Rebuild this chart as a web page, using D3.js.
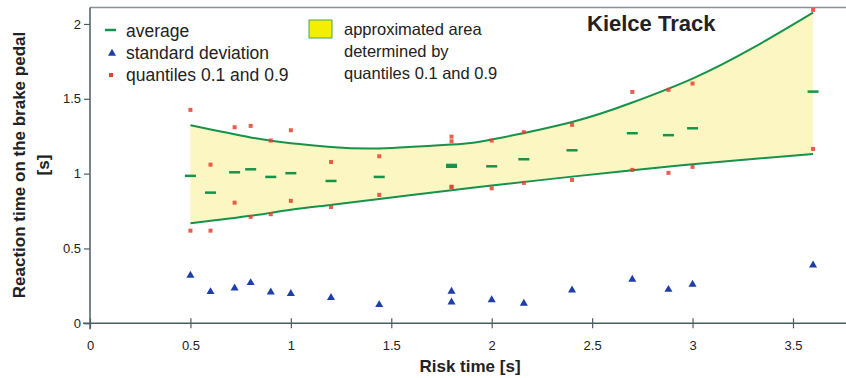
<!DOCTYPE html>
<html>
<head>
<meta charset="utf-8">
<title>Kielce Track</title>
<script src="https://cdn.jsdelivr.net/npm/d3@7/dist/d3.min.js"></script>
<style>
    body { margin: 0; background: #fff; }
    svg text { font-family: "Liberation Sans", Arial, sans-serif; fill: #222; }
</style>
</head>
<body>
<svg id="diagram" width="846" height="378"></svg>
<script>
// risk time of each measurement (two runs at 1.8 s)
var riskTime = [0.5, 0.6, 0.72, 0.8, 0.9, 1.0, 1.2, 1.44, 1.8, 1.8, 2.0, 2.16, 2.4, 2.7, 2.88, 3.0, 3.6];
var average = [0.985, 0.873, 1.009, 1.029, 0.978, 1.003, 0.951, 0.978, 1.058, 1.046, 1.049, 1.096, 1.156, 1.27, 1.257, 1.303, 1.548];
var stdDev = [0.325, 0.216, 0.24, 0.276, 0.214, 0.203, 0.176, 0.129, 0.218, 0.147, 0.162, 0.138, 0.227, 0.298, 0.231, 0.265, 0.394];
var q10 = [0.619, 0.619, 0.806, 0.711, 0.729, 0.818, 0.777, 0.858, 0.913, 0.91, 0.902, 0.938, 0.958, 1.025, 1.005, 1.045, 1.165];
var q90 = [1.426, 1.06, 1.31, 1.319, 1.221, 1.29, 1.078, 1.116, 1.247, 1.216, 1.221, 1.277, 1.326, 1.546, 1.56, 1.602, 2.094];

// approximated area
var bandX = [0.5, 0.8, 1.0, 1.2, 1.44, 1.8, 2.0, 2.4, 2.7, 3.0, 3.3, 3.6];
var bandUpper = [1.323, 1.242, 1.203, 1.178, 1.168, 1.194, 1.228, 1.345, 1.475, 1.635, 1.84, 2.076];
var bandLower = [0.668, 0.718, 0.759, 0.791, 0.831, 0.889, 0.92, 0.98, 1.022, 1.063, 1.098, 1.132];

var xTicks = [0, 0.5, 1, 1.5, 2, 2.5, 3, 3.5];
var yTicks = [0, 0.5, 1, 1.5, 2];

var green = "#17924a";
var red = "#e5412f";
var blue = "#1d3fa6";
var axisColor = "#4c5c63";

var svg = d3.select("#diagram");

var xScale = d3.scaleLinear().domain([0, 3.764]).range([90, 846]);
var yScale = d3.scaleLinear().domain([0, 2.11]).range([323.3, 7.5]);

var points = riskTime.map(function (t, i) {
    return {x: t, avg: average[i], sd: stdDev[i], lo: q10[i], hi: q90[i]};
});
var band = bandX.map(function (t, i) {
    return {x: t, lo: bandLower[i], hi: bandUpper[i]};
});

// frame top line
svg.append("line")
    .attr("x1", xScale(0)).attr("x2", 846)
    .attr("y1", yScale(2.11)).attr("y2", yScale(2.11))
    .attr("stroke", "#8a9093").attr("stroke-width", 1.5);

// approximated area
var area = d3.area()
    .x(function (d) { return xScale(d.x); })
    .y0(function (d) { return yScale(d.lo); })
    .y1(function (d) { return yScale(d.hi); })
    .curve(d3.curveNatural);

svg.append("path")
    .datum(band)
    .attr("d", area)
    .attr("fill", "#fbf6c2");

var upperLine = d3.line()
    .x(function (d) { return xScale(d.x); })
    .y(function (d) { return yScale(d.hi); })
    .curve(d3.curveNatural);
var lowerLine = d3.line()
    .x(function (d) { return xScale(d.x); })
    .y(function (d) { return yScale(d.lo); })
    .curve(d3.curveNatural);

svg.append("path").datum(band).attr("d", upperLine)
    .attr("fill", "none").attr("stroke", green).attr("stroke-width", 2);
svg.append("path").datum(band).attr("d", lowerLine)
    .attr("fill", "none").attr("stroke", green).attr("stroke-width", 2);

// axes
var yAxis = svg.append("g")
    .attr("transform", "translate(" + xScale(0) + ",0)")
    .call(d3.axisLeft(yScale).tickValues(yTicks).tickSize(6).tickPadding(3)
        .tickFormat(function (d) { return String(d); }));
yAxis.select(".domain").remove();
yAxis.append("line")
    .attr("y1", yScale(2.11)).attr("y2", yScale(0) + 6)
    .attr("stroke", axisColor).attr("stroke-width", 1.5);

var xAxis = svg.append("g")
    .attr("transform", "translate(0," + yScale(0) + ")")
    .call(d3.axisBottom(xScale).tickValues(xTicks).tickSize(5).tickPadding(12)
        .tickFormat(function (d) { return String(d); }));
xAxis.select(".domain").remove();
xAxis.append("line")
    .attr("x1", xScale(0) - 7).attr("x2", 846)
    .attr("stroke", axisColor).attr("stroke-width", 1.5);
xAxis.selectAll(".tick line").attr("y1", -5);

svg.selectAll(".tick line").attr("stroke", axisColor).attr("stroke-width", 1.2);
svg.selectAll(".tick text").style("font-size", "13px").attr("fill", "#333");

// quantile markers
var markSize = 4;
svg.append("g").selectAll("rect.q")
    .data(points.flatMap(function (d) { return [{x: d.x, y: d.lo}, {x: d.x, y: d.hi}]; }))
    .enter().append("rect")
    .attr("class", "q")
    .attr("x", function (d) { return xScale(d.x) - markSize / 2; })
    .attr("y", function (d) { return yScale(d.y) - markSize / 2; })
    .attr("width", markSize).attr("height", markSize)
    .attr("fill", red).attr("opacity", 0.85);

// average dashes
svg.append("g").selectAll("line.avg")
    .data(points)
    .enter().append("line")
    .attr("class", "avg")
    .attr("x1", function (d) { return xScale(d.x) - 5.5; })
    .attr("x2", function (d) { return xScale(d.x) + 5.5; })
    .attr("y1", function (d) { return yScale(d.avg); })
    .attr("y2", function (d) { return yScale(d.avg); })
    .attr("stroke", green).attr("stroke-width", 2.5);

// standard deviation triangles
var tri = d3.symbol().type(d3.symbolTriangle).size(28);
svg.append("g").selectAll("path.sd")
    .data(points)
    .enter().append("path")
    .attr("class", "sd")
    .attr("d", tri)
    .attr("transform", function (d) {
        return "translate(" + xScale(d.x) + "," + (yScale(d.sd) + 0.8) + ")";
    })
    .attr("fill", blue);

// axis titles
svg.append("text")
    .attr("x", 470).attr("y", 372)
    .attr("text-anchor", "middle")
    .style("font-size", "17px").style("font-weight", "bold")
    .text("Risk time [s]");

var yTitle = svg.append("text")
    .attr("transform", "translate(0,165) rotate(-90)")
    .attr("text-anchor", "middle")
    .style("font-size", "17px").style("font-weight", "bold");
yTitle.append("tspan").attr("x", 0).attr("y", 25).text("Reaction time on the brake pedal");
yTitle.append("tspan").attr("x", 0).attr("y", 49).text("[s]");

// chart title
svg.append("text")
    .attr("x", 587).attr("y", 31)
    .style("font-size", "22px").style("font-weight", "bold")
    .text("Kielce Track");

// legend left
var legend = svg.append("g");
legend.append("line")
    .attr("x1", 105).attr("x2", 116).attr("y1", 30).attr("y2", 30)
    .attr("stroke", green).attr("stroke-width", 2.5);
legend.append("path")
    .attr("d", tri)
    .attr("transform", "translate(112,53.5)")
    .attr("fill", blue);
legend.append("rect")
    .attr("x", 109).attr("y", 73).attr("width", markSize).attr("height", markSize)
    .attr("fill", red);

var legendLabels = ["average", "standard deviation", "quantiles 0.1 and 0.9"];
legend.selectAll("text.lbl")
    .data(legendLabels)
    .enter().append("text")
    .attr("class", "lbl")
    .attr("x", 126)
    .attr("y", function (d, i) { return 37 + 22 * i; })
    .style("font-size", "17.5px")
    .text(function (d) { return d; });

// legend right
legend.append("rect")
    .attr("x", 309).attr("y", 20).attr("width", 23).attr("height", 18)
    .attr("fill", "#f4ee00").attr("stroke", "#4aa35a").attr("stroke-width", 1);

var areaLabels = ["approximated area", "determined by", "quantiles 0.1 and 0.9"];
legend.selectAll("text.area")
    .data(areaLabels)
    .enter().append("text")
    .attr("class", "area")
    .attr("x", 344)
    .attr("y", function (d, i) { return 35 + 22 * i; })
    .style("font-size", "16.5px")
    .text(function (d) { return d; });
</script>
</body>
</html>
